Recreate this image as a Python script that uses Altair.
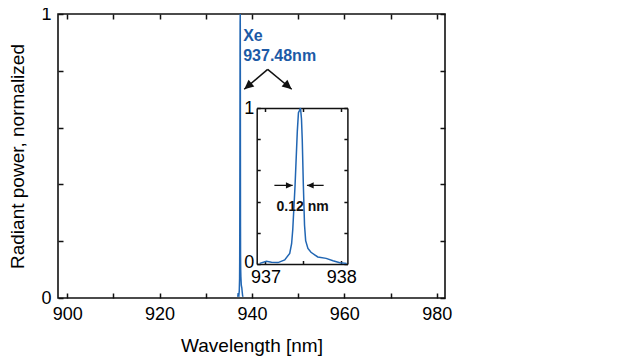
import altair as alt
import pandas as pd

# ---- data ----
wavelength_nm = [936.925, 937.013, 937.08, 937.166, 937.254, 937.32, 937.345, 937.36,
                 937.39, 937.42, 937.435, 937.45, 937.462, 937.475, 937.485, 937.50,
                 937.515, 937.53, 937.56, 937.60, 937.69, 937.80, 937.89, 937.98, 938.07]
power_norm = [0.004, 0.017, 0.011, 0.009, 0.026, 0.068, 0.13, 0.22,
              0.50, 0.85, 0.97, 0.985, 1.0, 0.93, 0.80, 0.50,
              0.25, 0.15, 0.10, 0.075, 0.045, 0.036, 0.021, 0.008, 0.004]

main_x_ticks = [900, 910, 920, 930, 940, 950, 960, 970, 980]
main_x_labels = [900, 920, 940, 960, 980]
y_ticks = [0, 0.2, 0.4, 0.6, 0.8, 1.0]
y_labels = [0, 1]
inset_x_ticks = [937, 937.5, 938]
inset_x_labels = [937, 938]

peak_label = ["Xe", "937.48nm"]
fwhm_label = "0.12 nm"

# ---- layout / style ----
FONT = "Liberation Sans"
BLUE_LINE = "#2166b3"
BLUE_TEXT = "#1c5aa6"
INK = "#111111"
W, H = 387, 284
MAIN_X = [898.0, 981.8]
INSET_X = [936.885, 938.08]
INSET_XR = [198.7, 289.4]
INSET_YR = [250, 94]
LABEL_SIZE = 18

df = pd.DataFrame({"wl": wavelength_nm, "p": power_norm})


def sx_main():
    return alt.Scale(domain=MAIN_X, nice=False, zero=False)


def sy_main():
    return alt.Scale(domain=[0, 1], nice=False, zero=False)


def sx_inset():
    return alt.Scale(domain=INSET_X, range=INSET_XR, nice=False, zero=False)


def sy_inset():
    return alt.Scale(domain=[0, 1], range=INSET_YR, nice=False, zero=False)


def tick_axis(orient, offset, values, size):
    return alt.Axis(orient=orient, offset=offset, values=values, labels=False,
                    domain=False, grid=False, ticks=True, tickSize=size,
                    tickWidth=1.5, tickColor=INK, title=None)


def frame_tick_axis(orient, offset, values, size):
    return alt.Axis(orient=orient, offset=offset, values=values, labels=False,
                    domain=True, domainColor=INK, domainWidth=1.5, grid=False,
                    ticks=True, tickSize=size, tickWidth=1.5, tickColor=INK,
                    title=None)


# main spectrum with labelled axes
main_line = alt.Chart(df).mark_line(color=BLUE_LINE, strokeWidth=1.5).encode(
    x=alt.X("wl:Q", scale=sx_main(), axis=alt.Axis(
        orient="bottom", values=main_x_labels, format="d", ticks=False, tickSize=0,
        domain=False, grid=False, labelPadding=7, labelFontSize=LABEL_SIZE,
        labelFont=FONT, labelColor="black", labelFlush=False,
        title="Wavelength [nm]", titleFontSize=19, titleFont=FONT,
        titleFontWeight="normal", titleColor="black", titlePadding=13)),
    y=alt.Y("p:Q", scale=sy_main(), axis=alt.Axis(
        orient="left", values=y_labels, format="d", ticks=False, tickSize=0,
        domain=False, grid=False, labelPadding=7, labelFontSize=LABEL_SIZE,
        labelFont=FONT, labelColor="black", labelFlush=False,
        title="Radiant power, normalized", titleFontSize=19, titleFont=FONT,
        titleFontWeight="normal", titleColor="black", titlePadding=13)),
)

# inward ticks (bottom + left)
main_ticks_a = alt.Chart(df).mark_line(opacity=0).encode(
    x=alt.X("wl:Q", scale=sx_main(), axis=tick_axis("top", -H, main_x_ticks, 5)),
    y=alt.Y("p:Q", scale=sy_main(), axis=tick_axis("right", -W, y_ticks, 5)),
)
# inward ticks (top + right)
main_ticks_b = alt.Chart(df).mark_line(opacity=0).encode(
    x=alt.X("wl:Q", scale=sx_main(), axis=tick_axis("bottom", -H, main_x_ticks, 5)),
    y=alt.Y("p:Q", scale=sy_main(), axis=tick_axis("left", -W, y_ticks, 5)),
)

# annotations in main coordinates
ann_text = pd.DataFrame({"x": [938.1, 938.1], "y": [0.905, 0.834], "t": peak_label})
main_text = alt.Chart(ann_text).mark_text(
    align="left", baseline="alphabetic", font=FONT, fontSize=16,
    fontWeight="bold", color=BLUE_TEXT).encode(
    x=alt.X("x:Q", scale=sx_main(), axis=None),
    y=alt.Y("y:Q", scale=sy_main(), axis=None),
    text="t:N")

arrows_main = pd.DataFrame({"x": [943.4, 943.4], "y": [0.805, 0.805],
                            "x2": [938.33, 948.6], "y2": [0.735, 0.735],
                            "ang": [229.5, 130.5]})
main_rules = alt.Chart(arrows_main).mark_rule(color=INK, strokeWidth=1.5).encode(
    x=alt.X("x:Q", scale=sx_main(), axis=None), x2="x2:Q",
    y=alt.Y("y:Q", scale=sy_main(), axis=None), y2="y2:Q")
HEAD = "M0,0L-0.85,1.8L0.85,1.8Z"
main_heads = alt.Chart(arrows_main).mark_point(
    shape=HEAD, filled=True, color=INK, opacity=1, size=110).encode(
    x=alt.X("x2:Q", scale=sx_main(), axis=None),
    y=alt.Y("y2:Q", scale=sy_main(), axis=None),
    angle=alt.Angle("ang:Q", scale=None))

# inset
inset_line = alt.Chart(df).mark_line(color=BLUE_LINE, strokeWidth=1.5).encode(
    x=alt.X("wl:Q", scale=sx_inset(), axis=alt.Axis(
        orient="bottom", offset=INSET_YR[0] - H, values=inset_x_labels, format="d",
        ticks=False, tickSize=0, domain=True, domainColor=INK, domainWidth=1.5,
        grid=False, labelPadding=4, labelFontSize=LABEL_SIZE, labelFont=FONT,
        labelColor="black", labelFlush=False, title=None)),
    y=alt.Y("p:Q", scale=sy_inset(), axis=alt.Axis(
        orient="left", offset=-INSET_XR[0], values=y_labels, format="d",
        ticks=False, tickSize=0, domain=True, domainColor=INK, domainWidth=1.5,
        grid=False, labelPadding=3, labelFontSize=LABEL_SIZE, labelFont=FONT,
        labelColor="black", labelFlush=False, title=None,
        labelOffset={"condition": {"test": "datum.value == 0", "value": -2},
                     "value": 0})),
)
inset_ticks_a = alt.Chart(df).mark_line(opacity=0).encode(
    x=alt.X("wl:Q", scale=sx_inset(),
            axis=tick_axis("top", -INSET_YR[0], inset_x_ticks, 3.5)),
    y=alt.Y("p:Q", scale=sy_inset(),
            axis=tick_axis("right", INSET_XR[0] - W, y_ticks, 3.5)),
)
inset_ticks_b = alt.Chart(df).mark_line(opacity=0).encode(
    x=alt.X("wl:Q", scale=sx_inset(),
            axis=frame_tick_axis("bottom", INSET_YR[1] - H, inset_x_ticks, 3.5)),
    y=alt.Y("p:Q", scale=sy_inset(),
            axis=frame_tick_axis("left", -INSET_XR[1], y_ticks, 3.5)),
)

arrows_inset = pd.DataFrame({"x": [937.118, 937.767], "y": [0.504, 0.504],
                             "x2": [937.359, 937.547], "y2": [0.504, 0.504],
                             "ang": [90, 270]})
inset_rules = alt.Chart(arrows_inset).mark_rule(color=INK, strokeWidth=1.3).encode(
    x=alt.X("x:Q", scale=sx_inset(), axis=None), x2="x2:Q",
    y=alt.Y("y:Q", scale=sy_inset(), axis=None), y2="y2:Q")
inset_heads = alt.Chart(arrows_inset).mark_point(
    shape=HEAD, filled=True, color=INK, opacity=1, size=56).encode(
    x=alt.X("x2:Q", scale=sx_inset(), axis=None),
    y=alt.Y("y2:Q", scale=sy_inset(), axis=None),
    angle=alt.Angle("ang:Q", scale=None))

fwhm_df = pd.DataFrame({"x": [937.49], "y": [0.34], "t": [fwhm_label]})
inset_text = alt.Chart(fwhm_df).mark_text(
    align="center", baseline="alphabetic", font=FONT, fontSize=14,
    fontWeight="bold", color=INK).encode(
    x=alt.X("x:Q", scale=sx_inset(), axis=None),
    y=alt.Y("y:Q", scale=sy_inset(), axis=None),
    text="t:N")

chart = alt.layer(
    main_line, main_ticks_a, main_ticks_b, main_text, main_rules, main_heads,
    inset_line, inset_ticks_a, inset_ticks_b, inset_rules, inset_heads, inset_text,
).resolve_scale(x="independent", y="independent").properties(
    width=W, height=H,
    autosize=alt.AutoSizeParams(type="none"),
    padding={"left": 50, "top": 6, "right": 180, "bottom": 60},
    background="white",
).configure_view(stroke=INK, strokeWidth=1.6)

chart.save("out.html", embed_options={"renderer": "svg", "actions": False})
